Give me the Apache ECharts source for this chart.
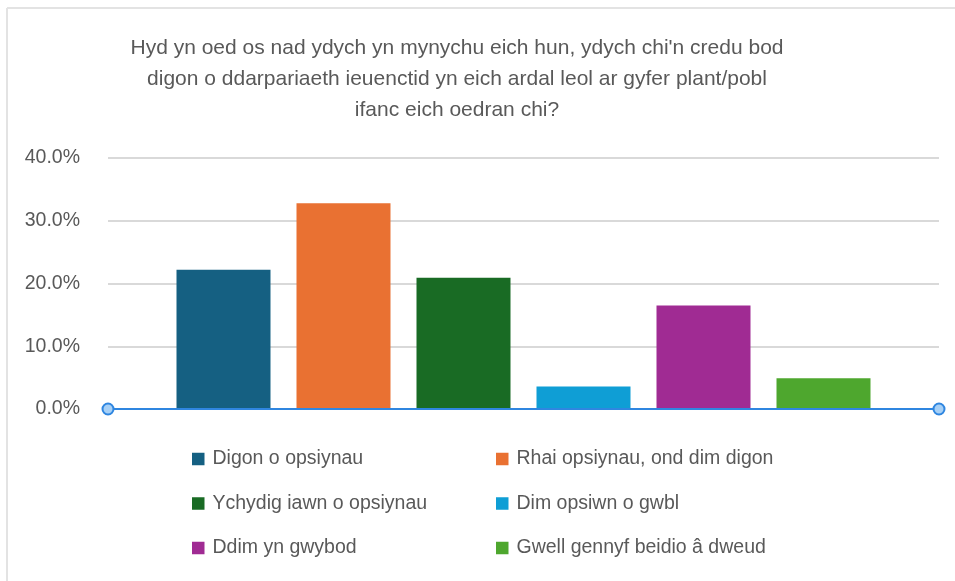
<!DOCTYPE html>
<html>
<head>
<meta charset="utf-8">
<script src="https://cdn.jsdelivr.net/npm/echarts@6/dist/echarts.min.js"></script>
<style>
  html, body { margin: 0; padding: 0; background: #fff; }
  #chart { width: 955px; height: 581px; }
</style>
</head>
<body>
<div id="chart"></div>
<script>
var seriesNames = [
  "Digon o opsiynau",
  "Rhai opsiynau, ond dim digon",
  "Ychydig iawn o opsiynau",
  "Dim opsiwn o gwbl",
  "Ddim yn gwybod",
  "Gwell gennyf beidio â dweud"
];
var seriesValues = [22.2, 32.8, 20.9, 3.6, 16.5, 4.9];
var barColors = ["#156082", "#E97132", "#196B24", "#0F9ED5", "#A02B93", "#4EA72E"];
var yTicks = { min: 0, max: 40, interval: 10 };
var titleText = "Hyd yn oed os nad ydych yn mynychu eich hun, ydych chi'n credu bod\ndigon o ddarpariaeth ieuenctid yn eich ardal leol ar gyfer plant/pobl\nifanc eich oedran chi?";

var FONT = "'Liberation Sans', Arial, sans-serif";
var TEXT = "#595959";
var gridL = 108, gridR = 16, gridT = 158, gridB = 172;

var myChart = echarts.init(document.getElementById("chart"));

var series = seriesNames.map(function (name, i) {
  return {
    name: name,
    type: "bar",
    data: [seriesValues[i]],
    barWidth: 94,
    barGap: "27.66%",
    itemStyle: { color: barColors[i] }
  };
});

var legendBase = {
  orient: "vertical",
  top: 448,
  padding: 0,
  itemWidth: 12.5,
  itemHeight: 12.5,
  itemGap: 22.5,
  icon: "rect",
  textStyle: { fontFamily: FONT, fontSize: 19.5, color: TEXT, lineHeight: 22, padding: [0, 0, 0, 3] }
};

var option = {
  animation: false,
  color: barColors,
  title: {
    text: titleText,
    left: 457,
    top: 33,
    padding: 0,
    textAlign: "center",
    textStyle: {
      fontFamily: FONT,
      fontSize: 21,
      fontWeight: "normal",
      color: TEXT,
      lineHeight: 31
    }
  },
  grid: { left: gridL, right: gridR, top: gridT, bottom: gridB },
  xAxis: {
    type: "category",
    data: [""],
    z: 5,
    axisTick: { show: false },
    axisLabel: { show: false },
    axisLine: { lineStyle: { color: "#2F86E0", width: 2 } }
  },
  yAxis: {
    type: "value",
    min: yTicks.min,
    max: yTicks.max,
    interval: yTicks.interval,
    axisLine: { show: false },
    axisTick: { show: false },
    axisLabel: {
      margin: 28,
      fontFamily: FONT,
      fontSize: 19.5,
      color: TEXT,
      formatter: function (v) { return v.toFixed(1) + "%"; }
    },
    splitLine: { lineStyle: { color: "#d9d9d9", width: 2 } }
  },
  legend: [
    Object.assign({}, legendBase, {
      left: 192,
      data: [seriesNames[0], seriesNames[2], seriesNames[4]]
    }),
    Object.assign({}, legendBase, {
      left: 496,
      data: [seriesNames[1], seriesNames[3], seriesNames[5]]
    })
  ],
  graphic: [
    // outer frame (top and left only, as in the screenshot)
    { type: "line", shape: { x1: 7, y1: 8, x2: 955, y2: 8 }, style: { stroke: "#e3e3e3", lineWidth: 2 } },
    { type: "line", shape: { x1: 7, y1: 8, x2: 7, y2: 581 }, style: { stroke: "#e3e3e3", lineWidth: 2 } },
    // round end caps on the category axis
    { type: "circle", z: 10, shape: { cx: gridL, cy: 581 - gridB, r: 5.5 }, style: { fill: "#A7D0F6", stroke: "#2F86E0", lineWidth: 2 } },
    { type: "circle", z: 10, shape: { cx: 955 - gridR, cy: 581 - gridB, r: 5.5 }, style: { fill: "#A7D0F6", stroke: "#2F86E0", lineWidth: 2 } }
  ],
  series: series
};

myChart.setOption(option);
window.addEventListener("resize", function () {
  myChart.resize();
});
</script>
</body>
</html>
